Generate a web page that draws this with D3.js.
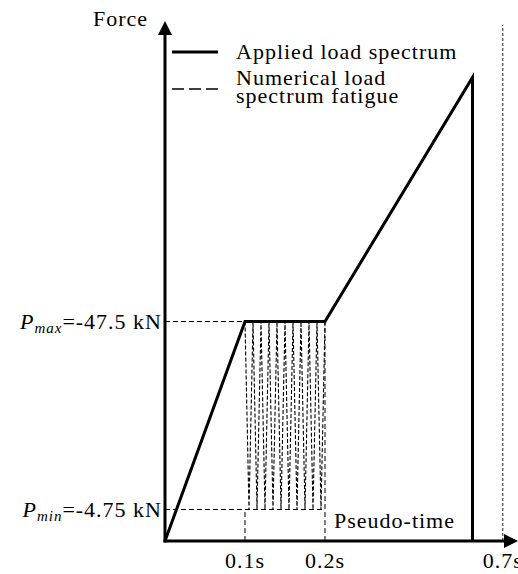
<!DOCTYPE html>
<html>
<head>
<meta charset="utf-8">
<script src="https://cdn.jsdelivr.net/npm/d3@7"></script>
<style>
  html, body { margin: 0; padding: 0; background: #fff; }
  svg { display: block; }
</style>
</head>
<body>
<svg id="chart" width="518" height="574"></svg>
<script>
// Load levels (kN, magnitude) and pseudo-time marks (s)
const pMax = 47.5;
const pMin = 4.75;
const pPeak = 103;
const tickTimes = [0.1, 0.2, 0.7];
const tickLabels = ["0.1s", "0.2s", "0.7s"];

// Applied load spectrum: ramp, hold at Pmax, ramp to peak, release
const appliedTime = [0, 0.1, 0.2, 0.615, 0.615];
const appliedLoad = [0, pMax, pMax, pPeak, 0];

// Numerical fatigue cycles between Pmax and Pmin during the hold
const cycleTime = [0.1, 0.105, 0.11, 0.115, 0.12, 0.125, 0.13, 0.135, 0.14, 0.145, 0.15,
                   0.155, 0.16, 0.165, 0.17, 0.175, 0.18, 0.185, 0.19, 0.195, 0.2];
const cycleLoad = [pMax, pMin, pMax, pMin, pMax, pMin, pMax, pMin, pMax, pMin, pMax,
                   pMin, pMax, pMin, pMax, pMin, pMax, pMin, pMax, pMin, pMax];

const legendLabels = ["Applied load spectrum", "Numerical load", "spectrum fatigue"];

const svg = d3.select("#chart");
const W = 518;
const originX = 165, originY = 541;
const FONT = "Liberation Serif, Times New Roman, serif";
const FS = 22;

// Schematic (broken) axes: piecewise-linear scales
const x = d3.scaleLinear().domain([0, 0.2, 0.7]).range([originX, originX + 160, originX + 337.7]);
const y = d3.scaleLinear().domain([0, pMin, pMax]).range([originY, originY - 31.5, originY - 219.5]);

function label(px, py, str, anchor) {
  return svg.append("text").attr("x", px).attr("y", py)
    .attr("font-family", FONT).attr("font-size", FS).attr("letter-spacing", 1)
    .attr("fill", "#000").attr("text-anchor", anchor || "start").text(str);
}

// Guide lines
const guide = svg.append("g").attr("stroke", "#000").attr("stroke-width", 1)
  .attr("stroke-dasharray", "5,3").attr("fill", "none");
guide.append("line").attr("x1", originX).attr("x2", x(0.1)).attr("y1", y(pMax)).attr("y2", y(pMax));
guide.append("line").attr("x1", originX).attr("x2", x(0.2)).attr("y1", y(pMin)).attr("y2", y(pMin));
guide.append("line").attr("x1", x(0.1)).attr("x2", x(0.1)).attr("y1", originY).attr("y2", y(pMin));
guide.append("line").attr("x1", x(0.2)).attr("x2", x(0.2)).attr("y1", originY).attr("y2", y(pMax));

// End-of-spectrum marker
svg.append("line").attr("x1", x(0.7)).attr("x2", x(0.7)).attr("y1", originY).attr("y2", 25)
  .attr("stroke", "#666").attr("stroke-width", 1.5).attr("stroke-dasharray", "3,2");

// Fatigue cycles
const line = d3.line().x(d => x(d[0])).y(d => y(d[1]));
svg.append("path")
  .datum(d3.zip(cycleTime, cycleLoad))
  .attr("d", line)
  .attr("fill", "none").attr("stroke", "#000").attr("stroke-width", 1.1)
  .attr("stroke-dasharray", "4,2");

// Applied load spectrum
svg.append("path")
  .datum(d3.zip(appliedTime, appliedLoad))
  .attr("d", line)
  .attr("fill", "none").attr("stroke", "#000").attr("stroke-width", 3)
  .attr("stroke-linejoin", "miter");

// Axes with arrow heads
svg.append("line").attr("x1", originX).attr("x2", originX).attr("y1", originY + 1.5).attr("y2", 32)
  .attr("stroke", "#000").attr("stroke-width", 3);
svg.append("path").attr("d", `M${originX},21 L${originX - 7},35 L${originX + 7},35 Z`).attr("fill", "#000");
svg.append("line").attr("x1", originX - 1.5).attr("x2", W - 12).attr("y1", originY).attr("y2", originY)
  .attr("stroke", "#000").attr("stroke-width", 3);
svg.append("path").attr("d", `M${W},${originY} L${W - 14},${originY - 7} L${W - 14},${originY + 7} Z`).attr("fill", "#000");

// Axis titles
label(148, 26, "Force", "end");
label(334, 528, "Pseudo-time");

// Time tick labels
tickTimes.forEach((t, i) => label(x(t), 568, tickLabels[i], "middle"));

// Load level labels
function levelLabel(value, sub, txt) {
  const t = label(162, y(value) + 7, null, "end");
  t.append("tspan").attr("font-style", "italic").text("P");
  t.append("tspan").attr("font-style", "italic").attr("font-size", 15).attr("dy", 4).text(sub);
  t.append("tspan").attr("dy", -4).text(txt);
}
levelLabel(pMax, "max", "=-47.5 kN");
levelLabel(pMin, "min", "=-4.75 kN");

// Legend
svg.append("line").attr("x1", 172).attr("x2", 218).attr("y1", 52).attr("y2", 52)
  .attr("stroke", "#000").attr("stroke-width", 3);
svg.append("line").attr("x1", 172).attr("x2", 218).attr("y1", 89).attr("y2", 89)
  .attr("stroke", "#000").attr("stroke-width", 1.5).attr("stroke-dasharray", "12,5");
label(236, 59, legendLabels[0]);
label(236, 85, legendLabels[1]);
label(236, 103, legendLabels[2]);
</script>
</body>
</html>
